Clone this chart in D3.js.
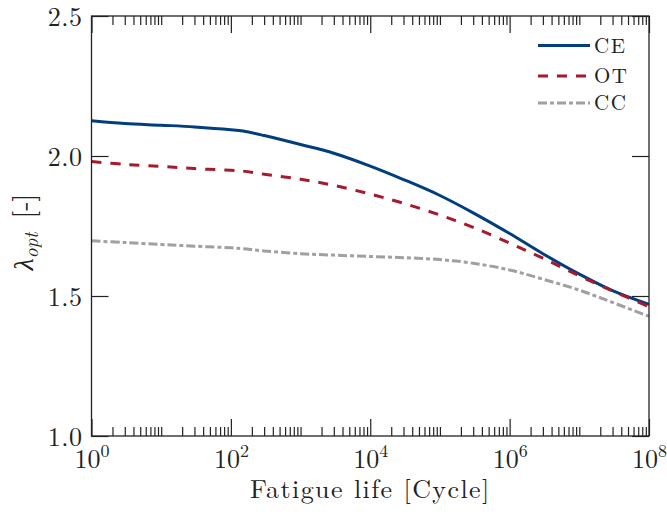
<!DOCTYPE html>
<html>
<head>
<meta charset="utf-8">
<script src="https://cdn.jsdelivr.net/npm/d3@7"></script>
<style>
  html, body { margin: 0; padding: 0; background: #fff; }
  svg { display: block; }
  text { font-family: "Latin Modern Roman", "CMU Serif", "Liberation Serif", "DejaVu Serif", serif; fill: #222; }
</style>
</head>
<body>
<div id="chart"></div>
<script>
// ---- data ----
const cycles = [1, 3, 10, 30, 100, 150, 300, 1e3, 3e3, 1e4, 3e4, 1e5, 3e5, 1e6, 3e6, 1e7, 3e7, 1e8];
const seriesNames = ["CE", "OT", "CC"];
const ceValues = [2.126, 2.116, 2.110, 2.104, 2.094, 2.089, 2.073, 2.041, 2.010, 1.964, 1.916, 1.859, 1.797, 1.723, 1.651, 1.578, 1.519, 1.470];
const otValues = [1.980, 1.970, 1.963, 1.955, 1.949, 1.946, 1.935, 1.917, 1.895, 1.864, 1.831, 1.789, 1.745, 1.689, 1.635, 1.572, 1.518, 1.462];
const ccValues = [1.697, 1.691, 1.684, 1.678, 1.672, 1.669, 1.661, 1.651, 1.646, 1.641, 1.637, 1.630, 1.617, 1.593, 1.560, 1.521, 1.477, 1.427];
const xMajorExponents = [0, 2, 4, 6, 8];
const yTickValues = [1.0, 1.5, 2.0, 2.5];
const xLabel = "Fatigue life [Cycle]";

(function () {
const W = 667, H = 515;
const margin = { left: 91.5, right: 18, top: 16, bottom: 79 };
const pw = W - margin.left - margin.right;
const ph = H - margin.top - margin.bottom;

const colors = { CE: "#003E7E", OT: "#A6192E", CC: "#A0A0A0" };
const dashes = { CE: null, OT: "10,9", CC: "9,3,4,3" };

const svg = d3.select("#chart").append("svg").attr("width", W).attr("height", H);
const g = svg.append("g").attr("transform", `translate(${margin.left},${margin.top})`);

const x = d3.scaleLog().domain([1, 1e8]).range([0, pw]);
const y = d3.scaleLinear().domain([1.0, 2.5]).range([ph, 0]);

const majorTicks = xMajorExponents.map(e => Math.pow(10, e));
const minorTicks = [];
for (let e = 0; e < 8; e++) for (let m = 2; m <= 10; m++) {
  const v = m * Math.pow(10, e);
  if (!(m === 10 && (e + 1) % 2 === 0)) minorTicks.push(v);
}

const series = [
  { name: "CE", values: ceValues },
  { name: "OT", values: otValues },
  { name: "CC", values: ccValues }
];
const line = d3.line()
  .x((d, i) => x(cycles[i]))
  .y(d => y(d))
  .curve(d3.curveCatmullRom.alpha(0.5));

svg.append("defs").append("clipPath").attr("id", "clip")
  .append("rect").attr("width", pw).attr("height", ph);

g.append("g").attr("clip-path", "url(#clip)")
  .selectAll("path.series").data(series).join("path")
  .attr("class", "series")
  .attr("fill", "none")
  .attr("stroke", d => colors[d.name])
  .attr("stroke-width", 3)
  .attr("stroke-dasharray", d => dashes[d.name])
  .attr("d", d => line(d.values));

const axisColor = "#222";
function styleAxis(sel) {
  sel.select(".domain").remove();
  sel.selectAll(".tick line").attr("stroke", axisColor).attr("stroke-width", 1.2);
}

const bottomAx = g.append("g").attr("transform", `translate(0,${ph})`)
  .call(d3.axisBottom(x).tickValues(majorTicks).tickSize(-17).tickPadding(0).tickFormat(""));
styleAxis(bottomAx);
bottomAx.selectAll(".tick").each(function(d) {
  const t = d3.select(this).append("text")
    .attr("y", 32).attr("text-anchor", "middle").style("font-size", "26px");
  t.append("tspan").text("10");
  t.append("tspan").attr("dy", -11).style("font-size", "18px").text(Math.round(Math.log10(d)));
});
const bottomMinor = g.append("g").attr("transform", `translate(0,${ph})`)
  .call(d3.axisBottom(x).tickValues(minorTicks).tickSize(-9).tickFormat(""));
styleAxis(bottomMinor);

const topAx = g.append("g")
  .call(d3.axisTop(x).tickValues(majorTicks).tickSize(-17).tickFormat(""));
styleAxis(topAx);
const topMinor = g.append("g")
  .call(d3.axisTop(x).tickValues(minorTicks).tickSize(-9).tickFormat(""));
styleAxis(topMinor);

const leftAx = g.append("g")
  .call(d3.axisLeft(y).tickValues(yTickValues).tickSize(-17).tickPadding(10).tickFormat(d3.format(".1f")));
styleAxis(leftAx);
leftAx.selectAll(".tick text").attr("x", -9).attr("dy", "0.35em")
  .style("font-size", "26px").style("letter-spacing", "0.5px").attr("fill", "#222");

const rightAx = g.append("g").attr("transform", `translate(${pw},0)`)
  .call(d3.axisRight(y).tickValues(yTickValues).tickSize(-17).tickFormat(""));
styleAxis(rightAx);

g.append("rect").attr("width", pw).attr("height", ph)
  .attr("fill", "none").attr("stroke", axisColor).attr("stroke-width", 1.3);

svg.append("text")
  .attr("x", margin.left + pw / 2).attr("y", 498)
  .attr("text-anchor", "middle").style("font-size", "26px").style("letter-spacing", "1.4px")
  .text(xLabel);

const yl = svg.append("text")
  .attr("transform", `translate(33,232) rotate(-90)`)
  .attr("text-anchor", "middle").style("font-size", "28px");
yl.append("tspan").style("font-style", "italic").text("λ");
yl.append("tspan").attr("dy", 5).style("font-size", "19px").style("font-style", "italic").text("opt");
yl.append("tspan").attr("dy", -5).text("\u2002[-]");

const legend = g.append("g");
const legendY = [45.5, 76, 103];
series.forEach((s, i) => {
  const ly = legendY[i] - margin.top;
  legend.append("line")
    .attr("x1", 538 - margin.left).attr("x2", 590 - margin.left)
    .attr("y1", ly).attr("y2", ly)
    .attr("stroke", colors[s.name]).attr("stroke-width", 3)
    .attr("stroke-dasharray", dashes[s.name]);
  legend.append("text")
    .attr("x", 594 - margin.left).attr("y", ly).attr("dy", "0.35em")
    .style("font-size", "21px").style("letter-spacing", "1.5px").text(s.name);
});
})();
</script>
</body>
</html>
